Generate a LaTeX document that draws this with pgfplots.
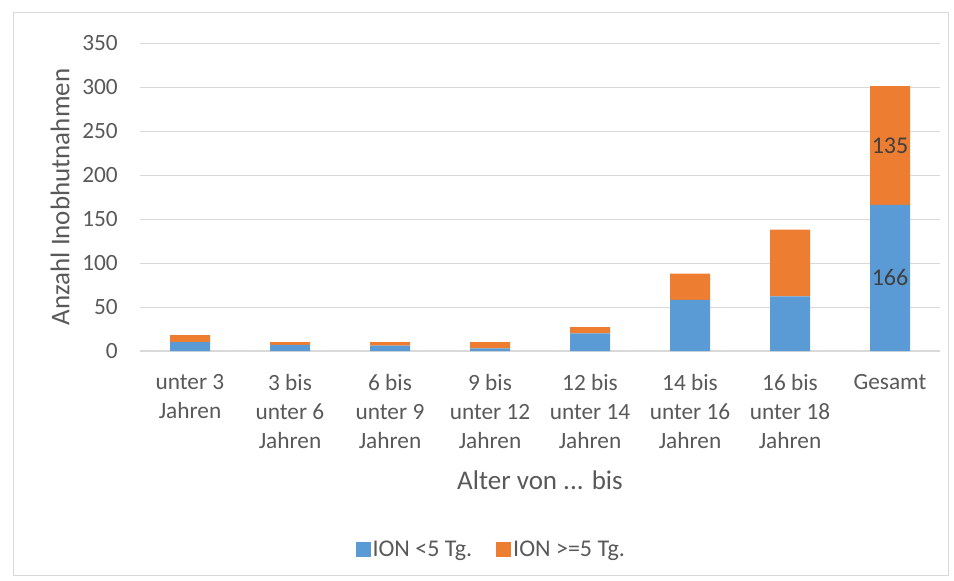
\documentclass[border=0pt]{standalone}
\usepackage{fontspec}
\setmainfont{Carlito}
\usepackage{pgfplots}
\pgfplotsset{compat=1.18}
\definecolor{ionblue}{HTML}{5B9BD5}
\definecolor{ionorange}{HTML}{ED7D31}
\definecolor{gridgray}{HTML}{D9D9D9}
\definecolor{textgray}{HTML}{595959}
\definecolor{labelgray}{HTML}{404040}

\begin{document}
\begin{tikzpicture}
\useasboundingbox (0pt,0pt) rectangle (954pt,-581pt);
\draw[gridgray, line width=1pt] (13pt,-12pt) rectangle (948pt,-575pt);
\begin{axis}[
    at={(140pt,-351pt)}, anchor=south west,
    scale only axis,
    width=800pt, height=308pt,
    ybar stacked,
    bar width=40pt,
    xmin=-0.5, xmax=7.5,
    ymin=0, ymax=350,
    ytick={0,50,...,350},
    xtick=data,
    xticklabels={{unter 3\\Jahren},{3 bis\\unter 6\\Jahren},{6 bis\\unter 9\\Jahren},{9 bis\\unter 12\\Jahren},{12 bis\\unter 14\\Jahren},{14 bis\\unter 16\\Jahren},{16 bis\\unter 18\\Jahren},{Gesamt}},
    major tick length=0pt,
    axis line style={draw=none},
    axis x line*=bottom,
    ymajorgrids=true,
    grid style={gridgray, line width=1pt},
    /pgf/number format/assume math mode=true,
    tick label style={font=\fontsize{23.3}{29}\selectfont, text=textgray},
    xticklabel style={align=center, anchor=north, inner sep=0pt, yshift=-23pt},
    yticklabel style={anchor=east, inner sep=0pt, xshift=-22pt},
    xlabel={Alter von ... bis},
    ylabel={Anzahl Inobhutnahmen},
    label style={font=\fontsize{27}{31}\selectfont, text=textgray},
    xlabel style={at={(axis description cs:0.5,-0.419)}, anchor=center},
    ylabel style={at={(axis description cs:-0.10,0.50)}, anchor=center},
    legend columns=2,
    legend style={draw=none, fill=none, at={(axis description cs:0.439,-0.643)}, anchor=center,
        font=\fontsize{24}{28}\selectfont, text=textgray,
        /tikz/every even column/.append style={column sep=22pt}},
    legend image code/.code={\fill[#1] (2pt,-7.5pt) rectangle (17pt,7.5pt);},
    point meta=explicit symbolic,
    nodes near coords,
    every node near coord/.append style={font=\fontsize{24}{28}\selectfont, text=labelgray, anchor=center},
]
\addplot[fill=ionblue, draw=none]
  coordinates {(0,10)[] (1,7)[] (2,6)[] (3,3)[] (4,20)[] (5,58)[] (6,62)[] (7,166)[166]};
\addplot[fill=ionorange, draw=none]
  coordinates {(0,8)[] (1,3)[] (2,4)[] (3,7)[] (4,7)[] (5,30)[] (6,76)[] (7,135)[135]};
\legend{ION <5 Tg., ION >=5 Tg.}
\draw[gridgray, line width=1.5pt] (axis cs:-0.5,0) -- (axis cs:7.5,0);
\end{axis}
\end{tikzpicture}
\end{document}
